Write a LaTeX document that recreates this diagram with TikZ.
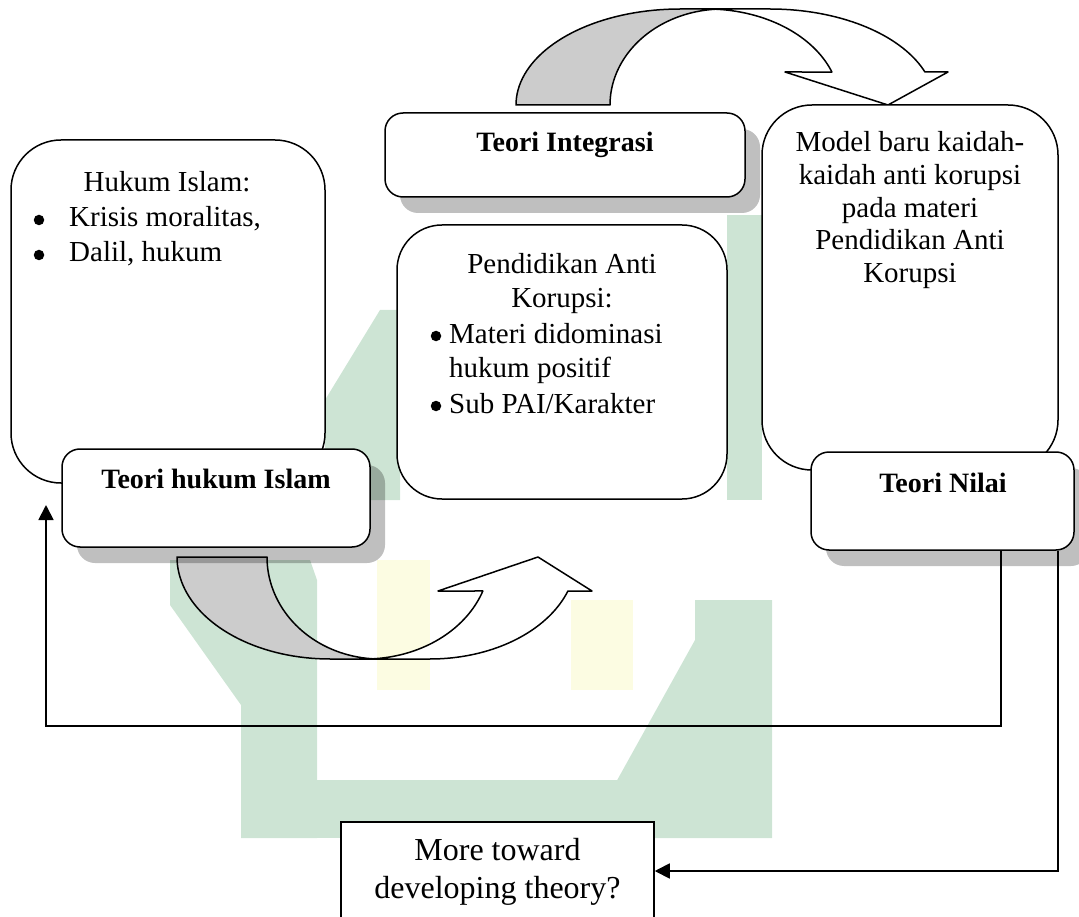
\documentclass[tikz,border=0pt]{standalone}
\usepackage{fontspec}
\setmainfont{Liberation Serif}
\usetikzlibrary{arrows.meta,shadows}
\definecolor{wmgreen}{RGB}{205,228,212}
\definecolor{wmyellow}{RGB}{252,252,226}
\tikzset{
  rbox/.style={draw=black, line width=1.5pt, fill=white, rounded corners=#1, inner sep=0pt, rectangle},
  sqbox/.style={draw=black, line width=1.5pt, fill=white, inner sep=0pt, rectangle},
  shad/.style={drop shadow={shadow xshift=15pt, shadow yshift=-16pt, opacity=0.25, fill=black}},
  txt/.style={font=\fontsize{29pt}{34pt}\selectfont, anchor=base, inner sep=0pt},
  txtl/.style={txt, anchor=base west},
  bold/.style={font=\fontsize{28pt}{34pt}\selectfont\bfseries, anchor=base, inner sep=0pt},
  bigtxt/.style={font=\fontsize{32pt}{38pt}\selectfont, anchor=base, inner sep=0pt},
  bul/.style={circle, fill=black, inner sep=0pt, minimum size=10.5pt},
  conn/.style={line width=1.8pt, -{Triangle[length=15pt,width=15pt]}},
  face/.style={draw=black, line width=1.5pt, line join=round},
  wm/.style={fill=wmgreen, draw=none},
  wmy/.style={fill=wmyellow, draw=none},
}
\begin{document}
\begin{tikzpicture}[x=1pt,y=-1pt]
\useasboundingbox (0,0) rectangle (1079,917);
\clip (0,0) rectangle (1079,917);

% faint watermark in the background
\fill[wm] (170,560) -- (310,560) -- (317,580) -- (317,838) -- (241,838) -- (241,705) -- (170,605) -- cycle;
\fill[wm] (241,780) rectangle (772,838);
\fill[wm] (695,600) -- (772,600) -- (772,838) -- (585,838) -- (695,640) -- cycle;
\fill[wm] (380,310) -- (400,310) -- (400,500) -- (325,500) -- (325,400) -- cycle;
\fill[wm] (727,215) rectangle (762,500);
\fill[wmy] (377,560) rectangle (430,690);
\fill[wmy] (571,600) rectangle (633,690);

% bottom curved arrow
\draw[face, fill=black!20]
  plot[domain=180:90,samples=40] ({330+153*cos(\x)},{557+102*sin(\x)})
  -- (380,659)
  -- plot[domain=90:180,samples=40] ({380+113*cos(\x)},{557+102*sin(\x)}) -- cycle;
\draw[face, fill=white]
  plot[domain=90:19.47,samples=40] ({365+125*cos(\x)},{557+102*sin(\x)})
  -- (438,591) -- (538,557) -- (592,591) -- (568,591)
  -- plot[domain=19.47:90,samples=40] ({430+146.3*cos(\x)},{557+102*sin(\x)}) -- cycle;

% top curved arrow
\draw[face, fill=black!20]
  plot[domain=180:90,samples=40] ({680+164*cos(\x)},{105-96*sin(\x)})
  -- (723,9)
  -- plot[domain=90:180,samples=40] ({723+113*cos(\x)},{105-96*sin(\x)}) -- cycle;
\draw[face, fill=white]
  plot[domain=90:20.1,samples=40] ({707+133*cos(\x)},{105-96*sin(\x)})
  -- (785,72) -- (888,105) -- (948,72) -- (925,72)
  -- plot[domain=20.1:90,samples=40] ({770+165*cos(\x)},{105-96*sin(\x)}) -- cycle;

% boxes
\node[rbox=50pt, minimum width=314pt, minimum height=343pt] (hi) at (168,311.5) {};
\node[rbox=18pt, shad, minimum width=308pt, minimum height=98pt] (thi) at (216,498) {};
\node[rbox=18pt, shad, minimum width=360pt, minimum height=84pt] (ti) at (565,155) {};
\node[rbox=45pt, minimum width=330pt, minimum height=274pt] (pak) at (562,362) {};
\node[rbox=50pt, minimum width=296pt, minimum height=365pt] (mb) at (910,287.5) {};
\node[rbox=18pt, shad, minimum width=263pt, minimum height=98pt] (tn) at (942.5,501) {};
\node[sqbox, minimum width=313pt, minimum height=98pt] (more) at (497.5,871) {};

% texts
\node[txt] (hi1) at (167,192) {Hukum Islam:};
\node[bul] (hib1) at (39,220) {};
\node[txtl] (hi2) at (69,227) {Krisis moralitas,};
\node[bul] (hib2) at (39,255) {};
\node[txtl] (hi3) at (69,262) {Dalil, hukum};

\node[bold] (thit) at (216,488) {Teori hukum Islam};
\node[bold] (tit) at (565,152) {Teori Integrasi};
\node[bold] (tnt) at (943,492) {Teori Nilai};

\node[txt] (pa1) at (562,274) {Pendidikan Anti};
\node[txt] (pa2) at (562,308) {Korupsi:};
\node[bul] (pab1) at (436,336) {};
\node[txtl] (pa3) at (449,343) {Materi didominasi};
\node[txtl] (pa4) at (449,377) {hukum positif};
\node[bul] (pab2) at (436,406) {};
\node[txtl] (pa5) at (449,413) {Sub PAI/Karakter};

\node[txt] (mb1) at (910,152) {Model baru kaidah-};
\node[txt] (mb2) at (910,185) {kaidah anti korupsi};
\node[txt] (mb3) at (910,218) {pada materi};
\node[txt] (mb4) at (910,250) {Pendidikan Anti};
\node[txt] (mb5) at (910,283) {Korupsi};

\node[bigtxt] (mt1) at (497.5,860) {More toward};
\node[bigtxt] (mt2) at (497.5,898) {developing theory?};

% connectors
\coordinate (ltip) at (46,505);
\draw[conn] ([xshift=58.5pt]tn.south) -- ++(0,175) -| (ltip);
\draw[conn] ([xshift=115.5pt]tn.south) |- (more.east);
\end{tikzpicture}
\end{document}
